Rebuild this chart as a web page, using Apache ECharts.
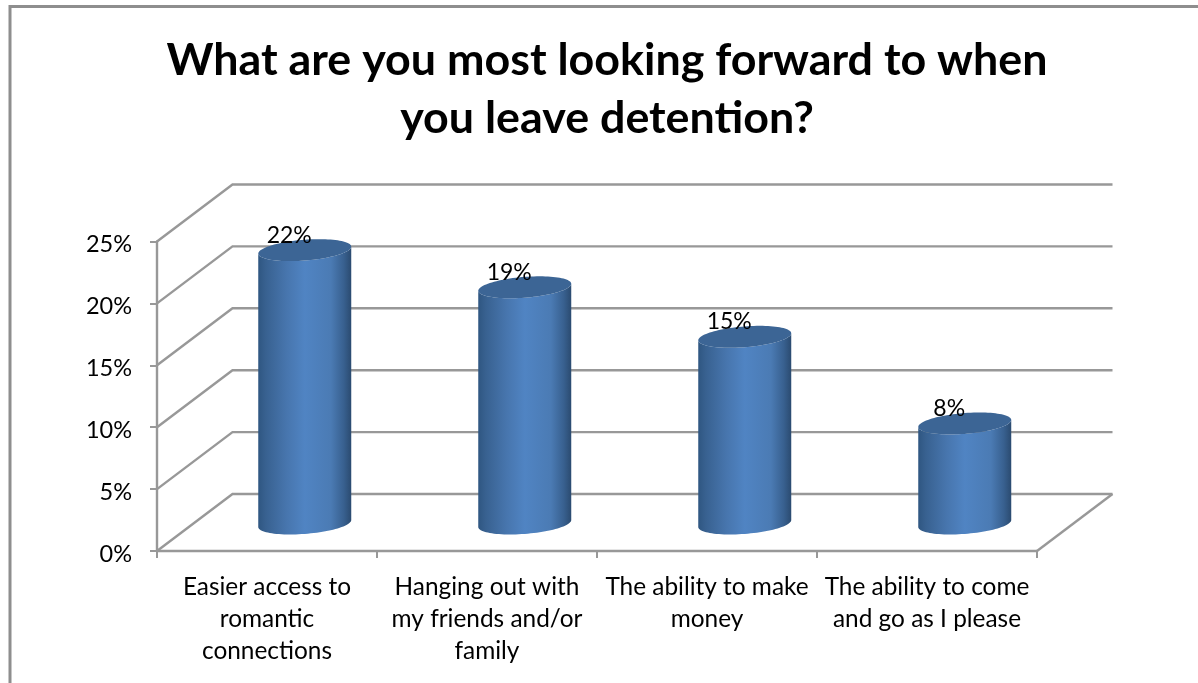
<!DOCTYPE html>
<html>
<head>
<meta charset="utf-8">
<style>html,body{margin:0;padding:0;background:#fff}#chart{width:1198px;height:683px}</style>
<script src="https://cdn.jsdelivr.net/npm/echarts@6/dist/echarts.min.js"></script>
</head>
<body>
<div id="chart"></div>
<script>
const titleText = 'What are you most looking forward to when\nyou leave detention?';
const categories = [
  'Easier access to\nromantic\nconnections',
  'Hanging out with\nmy friends and/or\nfamily',
  'The ability to make\nmoney',
  'The ability to come\nand go as I please'
];
const shares = [0.22, 0.19, 0.15, 0.08];
const yTicks = [0, 0.05, 0.10, 0.15, 0.20, 0.25];

// Oblique projection: how far the back wall sits from the front plane.
const DEPTH_X = 75.5, DEPTH_Y = 57;
const SHEAR = 0.075, FLATTEN = 0.224, BAR_RATIO = 0.4227;
const FONT = 'Lato, "Open Sans", sans-serif';
const GRID_COLOR = '#989898';

function pct(v) { return Math.round(v * 100) + '%'; }

// One wall gridline per tick, plus the right-hand floor edge at zero.
function renderWall(params, api) {
  const cs = params.coordSys;
  const y = api.coord([0, api.value(1)])[1];
  const x0 = cs.x, x1 = cs.x + cs.width;
  const children = [{
    type: 'polyline',
    shape: { points: [[x0, y], [x0 + DEPTH_X, y - DEPTH_Y], [x1 + DEPTH_X, y - DEPTH_Y]] },
    style: { stroke: GRID_COLOR, lineWidth: 2.4, fill: null }
  }];
  if (api.value(1) === 0) {
    children.push({
      type: 'line',
      shape: { x1: x1, y1: y, x2: x1 + DEPTH_X, y2: y - DEPTH_Y },
      style: { stroke: GRID_COLOR, lineWidth: 2.4 }
    });
  }
  return { type: 'group', children: children };
}

// Half of a sheared ellipse, sampled from the left extreme to the right extreme.
function arc(cx, cy, a, b, lower) {
  const pts = [];
  for (let i = 0; i <= 48; i++) {
    const t = Math.PI * i / 48;
    const dx = -a * Math.cos(t);
    const dy = (lower ? 1 : -1) * b * Math.sin(t);
    pts.push([cx + dx, cy + dy - SHEAR * dx]);
  }
  return pts;
}

// A cylinder standing midway through the depth of the plot.
function renderCylinder(params, api) {
  const base = api.coord([api.value(0), 0]);
  const top = api.coord([api.value(0), api.value(1)]);
  const a = api.size([1, 0])[0] * BAR_RATIO / 2;
  const b = a * FLATTEN;
  const cx = base[0] + DEPTH_X / 2;
  const yBase = base[1] - DEPTH_Y / 2 + 1;
  const yTop = top[1] - DEPTH_Y / 2;
  const topUpper = arc(cx, yTop, a, b, false);
  const topLower = arc(cx, yTop, a, b, true);
  const baseLower = arc(cx, yBase, a, b, true);
  const body = topLower.concat(baseLower.slice().reverse());
  const side = {
    type: 'linear', x: 0, y: 0, x2: 1, y2: 0,
    colorStops: [
      { offset: 0, color: '#2f5681' },
      { offset: 0.08, color: '#386190' },
      { offset: 0.3, color: '#4775ad' },
      { offset: 0.5, color: '#5084c3' },
      { offset: 0.78, color: '#4b7bb4' },
      { offset: 0.92, color: '#38608f' },
      { offset: 1, color: '#2b4b70' }
    ]
  };
  return {
    type: 'group',
    children: [
      { type: 'polygon', shape: { points: body }, style: { fill: side } },
      { type: 'polygon', shape: { points: topUpper.concat(topLower.slice().reverse()) }, style: { fill: '#3c6595' } },
      {
        type: 'text',
        style: {
          text: pct(api.value(1)), x: cx - 15.5, y: yTop - 15,
          align: 'center', verticalAlign: 'middle',
          font: '23px ' + FONT, fill: '#000'
        }
      }
    ]
  };
}

const chart = echarts.init(document.getElementById('chart'), null, { renderer: 'canvas' });
chart.setOption({
  animation: false,
  backgroundColor: '#fff',
  graphic: [{
    type: 'polyline',
    silent: true,
    shape: { points: [[10, 683], [10, 6.5], [1198, 6.5]] },
    style: { stroke: '#8e8e8e', lineWidth: 3, fill: null }
  }],
  title: {
    text: titleText,
    left: 602,
    top: 27,
    textAlign: 'center',
    textStyle: { fontFamily: FONT, fontSize: 44.8, fontWeight: 'bold', color: '#000', lineHeight: 58 }
  },
  grid: { left: 157, right: 161, top: 241.5, bottom: 132 },
  xAxis: {
    type: 'category',
    data: categories,
    axisLine: { lineStyle: { color: GRID_COLOR, width: 2.4 } },
    axisTick: { show: true, length: 7, alignWithLabel: false, lineStyle: { color: GRID_COLOR, width: 2 } },
    axisLabel: { interval: 0, margin: 20, fontFamily: FONT, fontSize: 24.4, color: '#000', lineHeight: 32 }
  },
  yAxis: {
    type: 'value',
    min: 0,
    max: 0.25,
    interval: 0.05,
    splitLine: { show: false },
    axisLine: { show: true, lineStyle: { color: GRID_COLOR, width: 2.4 } },
    axisTick: { show: true, length: 7, lineStyle: { color: GRID_COLOR, width: 2 } },
    axisLabel: { margin: 25, fontFamily: FONT, fontSize: 23.5, color: '#000', formatter: pct, verticalAlign: 'top', lineHeight: 6 }
  },
  series: [
    {
      type: 'custom',
      clip: false,
      silent: true,
      z: 1,
      renderItem: renderWall,
      data: yTicks.map(function (v) { return [0, v]; })
    },
    {
      type: 'custom',
      clip: false,
      silent: true,
      z: 3,
      renderItem: renderCylinder,
      encode: { x: 0, y: 1 },
      data: shares.map(function (v, i) { return [i, v]; })
    }
  ]
});
</script>
</body>
</html>
